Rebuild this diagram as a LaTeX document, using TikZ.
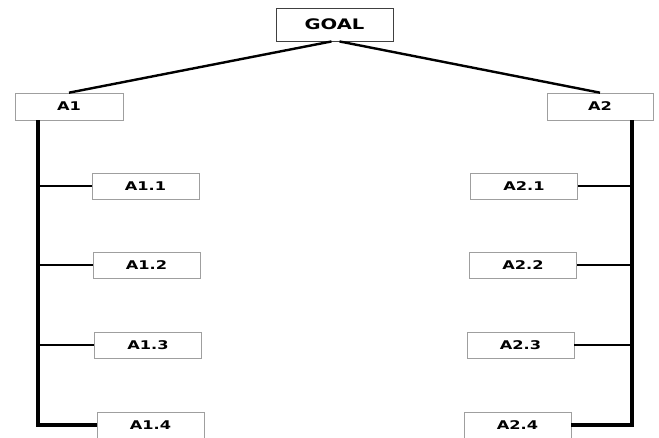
\documentclass[tikz,border=0pt]{standalone}
\usepackage{fontspec}
\setmainfont{DejaVu Sans}
\usepackage{graphicx}
\usetikzlibrary{calc}

\newcommand{\widelbl}[1]{\scalebox{1.35}[1]{\bfseries #1}}

\begin{document}
\begin{tikzpicture}[
    x=1pt,y=1pt,
    box/.style   = {rectangle,draw=gray!75,line width=0.6pt,fill=white,inner sep=0pt,
                    minimum width=107pt,minimum height=26pt,font=\fontsize{12}{14}\selectfont},
    goalbox/.style = {box,draw=black!75,line width=0.9pt,minimum width=117pt,
                    minimum height=33pt,font=\fontsize{14.5}{17}\selectfont},
    trunk/.style = {line width=4.5pt},
    twig/.style  = {line width=2pt},
    link/.style  = {line width=2.4pt},
  ]
  \useasboundingbox (0,0) rectangle (659,438);

  \node[goalbox] (goal) at (334.5,413.5) {\widelbl{GOAL}};
  \node[box,minimum width=108pt,minimum height=27pt] (a1) at (69,331.5)  {\widelbl{A1}};
  \node[box,minimum width=106pt,minimum height=27pt] (a2) at (600,331.5) {\widelbl{A2}};

  \node[box] (a11) at (145.5,252)  {\widelbl{A1.1}};
  \node[box] (a12) at (146.5,172.5){\widelbl{A1.2}};
  \node[box] (a13) at (148,92.5)   {\widelbl{A1.3}};
  \node[box] (a14) at (150.5,13)   {\widelbl{A1.4}};

  \node[box] (a21) at (524,252)    {\widelbl{A2.1}};
  \node[box] (a22) at (523,172.5)  {\widelbl{A2.2}};
  \node[box] (a23) at (520.5,92.5) {\widelbl{A2.3}};
  \node[box] (a24) at (517.5,13)   {\widelbl{A2.4}};

  % goal to the two branches
  \draw[link] ($(goal.south)+(-3,0)$) -- (a1.north);
  \draw[link] ($(goal.south)+(5,0)$)  -- (a2.north);

  % trunks
  \coordinate (lx) at (38,0);
  \coordinate (rx) at (632,0);
  \draw[trunk] (a1.south -| lx) |- (a14.west);
  \draw[trunk] (a2.south -| rx) |- (a24.east);

  \foreach \i in {1,2,3} {
    \draw[twig] (a1\i.west -| lx) -- (a1\i.west);
    \draw[twig] (a2\i.east -| rx) -- (a2\i.east);
  }

\end{tikzpicture}
\end{document}
